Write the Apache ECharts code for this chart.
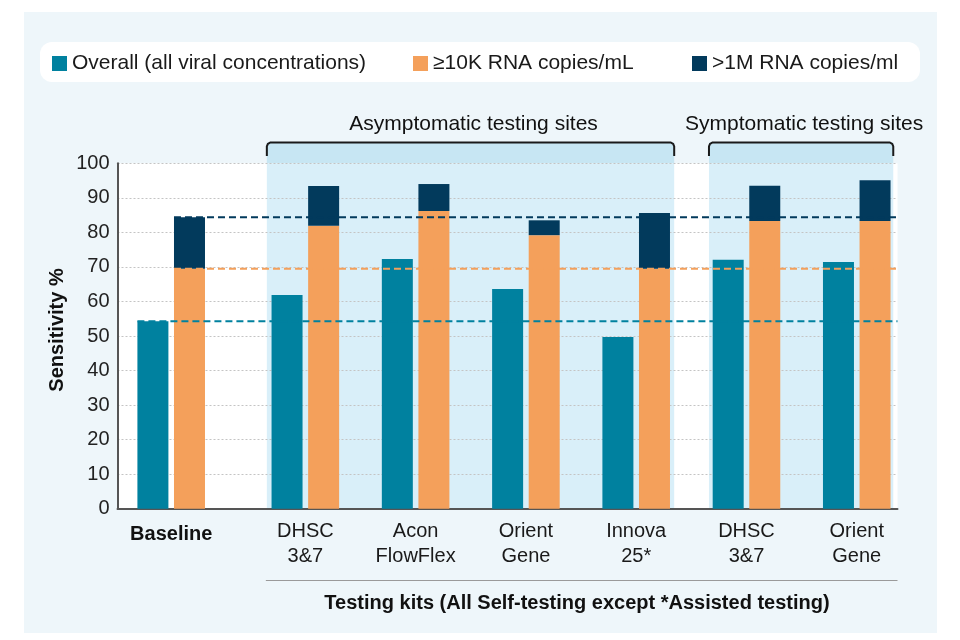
<!DOCTYPE html>
<html>
<head>
<meta charset="utf-8">
<script src="https://cdn.jsdelivr.net/npm/echarts@6/dist/echarts.min.js"></script>
<style>html,body{margin:0;padding:0;background:#fff}#c{width:960px;height:640px}</style>
</head>
<body>
<div id="c"></div>
<script>
// ---- data ----
const seriesNames = ['Overall (all viral concentrations)', '\u226510K RNA copies/mL', '>1M RNA copies/ml'];
const baselineLabel = ['Baseline'];
const kitLabels = ['DHSC\n3&7', 'Acon\nFlowFlex', 'Orient\nGene', 'Innova\n25*', 'DHSC\n3&7', 'Orient\nGene'];
const sectionLabels = ['Asymptomatic testing sites', 'Symptomatic testing sites'];
const xTitle = 'Testing kits (All Self-testing except *Assisted testing)';
const yTitle = 'Sensitivity %';
// index 0 = Baseline, 1..6 = testing kits
const overall = [54.3, 61.9, 72.3, 63.6, 49.7, 72.1, 71.4];
const tenK    = [69.5, 81.9, 86.2, 79.2, 69.5, 83.3, 83.3];
const oneM    = [84.4, 93.4, 94.0, 83.5, 85.6, 93.5, 95.1];
const yMin = 0, yMax = 100, yInterval = 10;

// ---- style ----
const FONT = '"Liberation Sans", Arial, Helvetica, sans-serif';
const TEAL = '#00819f', ORANGE = '#f4a05b', NAVY = '#023a5c';
const TOP = 163.3, BOTTOM = 640 - 508.8;
const BW = 31, GAP = '18%';

const chart = echarts.init(document.getElementById('c'), null, {renderer: 'canvas', width: 960, height: 640});

const hiddenY = g => ({gridIndex: g, type: 'value', min: yMin, max: yMax, interval: yInterval, show: false});
const barSeries = (name, g, data, color, stack) => ({
  name, type: 'bar', xAxisIndex: g, yAxisIndex: g, data, stack,
  barWidth: BW, barGap: GAP, itemStyle: {color}, emphasis: {disabled: true}, animation: false
});
const diff = (a, b) => a.map((v, i) => +(v - b[i]).toFixed(2));

const legendCommon = {
  icon: 'rect', itemWidth: 15, itemHeight: 15, padding: 0, top: 53, selectedMode: false,
  textStyle: {fontSize: 21, color: '#1a1a1a', fontFamily: FONT}
};

const option = {
  backgroundColor: '#ffffff',
  animation: false,
  textStyle: {fontFamily: FONT},
  legend: [
    Object.assign({data: [seriesNames[0]], left: 52}, legendCommon),
    Object.assign({data: [seriesNames[1]], left: 413}, legendCommon),
    Object.assign({data: [seriesNames[2]], left: 692}, legendCommon)
  ],
  grid: [
    {left: 117.5, width: 780, top: TOP, bottom: BOTTOM, outerBoundsMode: 'none', containLabel: false},
    {left: 117.5, width: 107.4, top: TOP, bottom: BOTTOM, outerBoundsMode: 'none', containLabel: false},
    {left: 250.2, width: 661.7, top: TOP, bottom: BOTTOM, outerBoundsMode: 'none', containLabel: false}
  ],
  xAxis: [
    {gridIndex: 0, type: 'value', min: 0, max: 1, axisLine: {show: true, onZero: false, lineStyle: {color: '#555', width: 2}},
     axisTick: {show: false}, axisLabel: {show: false}, splitLine: {show: false}},
    {gridIndex: 1, type: 'category', data: baselineLabel, axisLine: {show: false}, axisTick: {show: false},
     axisLabel: {fontSize: 20, fontWeight: 'bold', color: '#111', margin: 16, fontFamily: FONT}},
    {gridIndex: 2, type: 'category', data: kitLabels, axisLine: {show: false}, axisTick: {show: false},
     axisLabel: {fontSize: 20, lineHeight: 25, color: '#1a1a1a', margin: 10, fontFamily: FONT, interval: 0}}
  ],
  yAxis: [
    {gridIndex: 0, type: 'value', min: yMin, max: yMax, interval: yInterval,
     axisLine: {show: true, lineStyle: {color: '#555', width: 2}}, axisTick: {show: false},
     axisLabel: {fontSize: 20, color: '#222', margin: 8, fontFamily: FONT},
     splitLine: {show: true, lineStyle: {type: [2, 2], color: '#c4c4c4', width: 1}}},
    hiddenY(1), hiddenY(2)
  ],
  series: [
    barSeries(seriesNames[0], 1, overall.slice(0, 1), TEAL),
    barSeries(seriesNames[1], 1, tenK.slice(0, 1), ORANGE, 'base'),
    barSeries(seriesNames[2], 1, diff(oneM, tenK).slice(0, 1), NAVY, 'base'),
    barSeries(seriesNames[0], 2, overall.slice(1), TEAL),
    barSeries(seriesNames[1], 2, tenK.slice(1), ORANGE, 'kit'),
    barSeries(seriesNames[2], 2, diff(oneM, tenK).slice(1), NAVY, 'kit')
  ]
};
chart.setOption(option);

// ---- decorations positioned from the chart's own scales ----
const yPx = v => chart.convertToPixel({gridIndex: 0}, [0, v])[1];
const gridRight = chart.convertToPixel({gridIndex: 0}, [1, 0])[0];
const gridLeft = chart.convertToPixel({gridIndex: 0}, [0, 0])[0];
const cA = chart.convertToPixel({gridIndex: 1}, [0, 0])[0];
const cB = i => chart.convertToPixel({gridIndex: 2}, [i, 0])[0];
const y100 = yPx(yMax), y0 = yPx(yMin);
const gapPx = BW * 0.18;
const tealLeft = cA - BW - gapPx / 2, orangeLeft = cA + gapPx / 2;

const sections = [
  {l: cB(0) - 38.5, r: cB(3) + 38, label: sectionLabels[0]},
  {l: cB(4) - 37.5, r: cB(5) + 36.5, label: sectionLabels[1]}
];
const bracketTop = 142.5, bracketEnd = 156;

const els = [];
els.push({type: 'rect', z: -5, shape: {x: 24, y: 12, width: 913, height: 621}, style: {fill: '#eef6fa'}, silent: true});
els.push({type: 'rect', z: -4, shape: {x: 40, y: 42, width: 880, height: 40, r: 12}, style: {fill: '#ffffff'}, silent: true});
els.push({type: 'rect', z: -3, shape: {x: gridLeft, y: y100, width: gridRight - gridLeft, height: y0 - y100}, style: {fill: '#ffffff'}, silent: true});
sections.forEach(s => {
  els.push({type: 'rect', z: -2, shape: {x: s.l, y: bracketTop, width: s.r - s.l, height: y100 - bracketTop}, style: {fill: '#c7e6f3'}, silent: true});
  els.push({type: 'rect', z: -2, shape: {x: s.l, y: y100, width: s.r - s.l, height: y0 - y100}, style: {fill: '#d9eff9'}, silent: true});
  els.push({type: 'polyline', z: 6, silent: true,
    shape: {points: [[s.l, bracketEnd], [s.l, bracketTop + 4], [s.l + 1, bracketTop + 1.5], [s.l + 3.5, bracketTop],
                     [s.r - 3.5, bracketTop], [s.r - 1, bracketTop + 1.5], [s.r, bracketTop + 4], [s.r, bracketEnd]]},
    style: {stroke: '#1a1a1a', lineWidth: 2, fill: null}});
  els.push({type: 'text', z: 6, silent: true, x: (s.l + s.r) / 2 + 3, y: 124,
    style: {text: s.label, font: '21px ' + FONT, fill: '#111', align: 'center', verticalAlign: 'middle'}});
});
// baseline reference lines
[[overall[0], tealLeft, TEAL], [tenK[0], orangeLeft, ORANGE], [oneM[0], orangeLeft, NAVY]].forEach(([v, x0, c]) => {
  els.push({type: 'line', z: 10, silent: true, shape: {x1: x0, y1: yPx(v), x2: gridRight, y2: yPx(v)},
    style: {stroke: c, lineWidth: 2, lineDash: [7, 4]}});
});
// x title with rule
els.push({type: 'line', z: 6, silent: true, shape: {x1: sections[0].l - 1, y1: 580.5, x2: gridRight, y2: 580.5}, style: {stroke: '#9a9a9a', lineWidth: 1.2}});
els.push({type: 'text', z: 6, silent: true, x: 577, y: 603,
  style: {text: xTitle, font: 'bold 20px ' + FONT, fill: '#111', align: 'center', verticalAlign: 'middle'}});
// y title
els.push({type: 'text', z: 6, silent: true, x: 57, y: 330, rotation: Math.PI / 2,
  style: {text: yTitle, font: 'bold 20px ' + FONT, fill: '#111', align: 'center', verticalAlign: 'middle'}});

chart.setOption({graphic: {elements: els}});
</script>
</body>
</html>
